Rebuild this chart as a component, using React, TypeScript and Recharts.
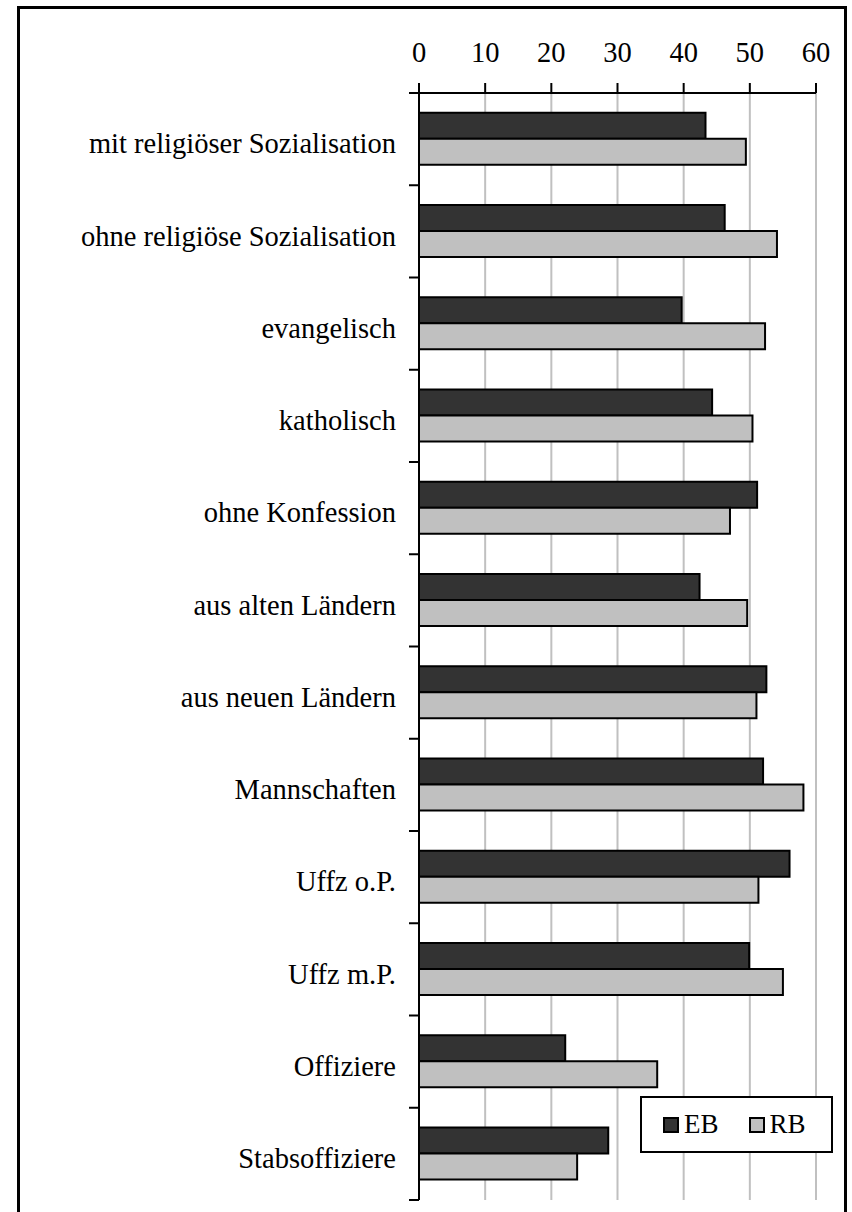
import React from "react";
import { BarChart, Bar, XAxis, YAxis, CartesianGrid } from "recharts";

const categories = [
  "mit religiöser Sozialisation",
  "ohne religiöse Sozialisation",
  "evangelisch",
  "katholisch",
  "ohne Konfession",
  "aus alten Ländern",
  "aus neuen Ländern",
  "Mannschaften",
  "Uffz o.P.",
  "Uffz m.P.",
  "Offiziere",
  "Stabsoffiziere",
];

const ebValues = [43.3, 46.2, 39.7, 44.3, 51.1, 42.4, 52.5, 52.0, 56.0, 49.9, 22.1, 28.6];
const rbValues = [49.4, 54.1, 52.3, 50.4, 47.0, 49.6, 51.0, 58.1, 51.3, 55.0, 36.0, 23.9];

const xTicks = [0, 10, 20, 30, 40, 50, 60];

const series = [
  { key: "EB", color: "#333333" },
  { key: "RB", color: "#c0c0c0" },
];

const FONT = "Liberation Serif, Times New Roman, Tinos, DejaVu Serif, serif";

const data = categories.map((name, i) => ({ name, EB: ebValues[i], RB: rbValues[i] }));

const TICK_MARGIN = 23;

// category labels plus Excel-style tick marks on the band boundaries
const CategoryTick = (props: any) => {
  const { x, y, payload, index } = props;
  const half = payload?.offset ?? 0;
  const axisX = x + TICK_MARGIN;
  const last = index === categories.length - 1;
  return (
    <g>
      <line x1={axisX - 10} x2={axisX} y1={y - half} y2={y - half} stroke="#000" strokeWidth={2} />
      {last && (
        <line x1={axisX - 10} x2={axisX} y1={y + half} y2={y + half} stroke="#000" strokeWidth={2} />
      )}
      <text x={x} y={y} dy="0.5em" textAnchor="end" style={{ fontSize: 28.5, fontFamily: FONT }} fill="#000">
        {payload.value}
      </text>
    </g>
  );
};

export default function App() {
  return (
    <div style={{ position: "absolute", left: 0, top: 0, width: 852, height: 1212, overflow: "hidden", background: "#fff", fontFamily: FONT }}>
      <div
        style={{
          position: "absolute",
          left: 17,
          top: 6,
          width: 830,
          height: 1230,
          border: "3px solid #000",
          boxSizing: "border-box",
        }}
      />
      <div style={{ position: "absolute", left: 0, top: 0 }}>
        <BarChart
          width={852}
          height={1212}
          data={data}
          layout="vertical"
          margin={{ top: 13, right: 36, bottom: 12, left: 19 }}
          barCategoryGap="21.5%"
          barGap={0}
          style={{ fontFamily: FONT }}
        >
          <CartesianGrid horizontal={false} stroke="#c0c0c0" strokeWidth={2} />
          <XAxis
            type="number"
            orientation="top"
            domain={[0, 60]}
            ticks={xTicks}
            interval={0}
            height={80}
            tickSize={10}
            tickMargin={21}
            axisLine={{ stroke: "#000", strokeWidth: 2 }}
            tickLine={{ stroke: "#000", strokeWidth: 2 }}
            tick={{ fontSize: 28.5, fontFamily: FONT, fill: "#000" }}
          />
          <YAxis
            type="category"
            dataKey="name"
            width={400}
            interval={0}
            tickSize={0}
            tickMargin={TICK_MARGIN}
            tickLine={false}
            axisLine={{ stroke: "#000", strokeWidth: 2 }}
            tick={<CategoryTick />}
          />
          {series.map((s) => (
            <Bar
              key={s.key}
              dataKey={s.key}
              fill={s.color}
              stroke="#000"
              strokeWidth={2}
              isAnimationActive={false}
            />
          ))}
        </BarChart>
      </div>
      <div
        style={{
          position: "absolute",
          left: 640,
          top: 1096,
          width: 193,
          height: 57,
          border: "2px solid #000",
          boxSizing: "border-box",
          background: "#fff",
          display: "flex",
          alignItems: "center",
          fontFamily: FONT,
          fontSize: 27,
          color: "#000",
        }}
      >
        {series.map((s, i) => (
          <div key={s.key} style={{ display: "flex", alignItems: "center", marginLeft: i === 0 ? 21 : 30 }}>
            <span
              style={{
                display: "inline-block",
                width: 16,
                height: 16,
                background: s.color,
                border: "2px solid #000",
                boxSizing: "border-box",
                marginRight: 5,
              }}
            />
            <span>{s.key}</span>
          </div>
        ))}
      </div>
    </div>
  );
}
